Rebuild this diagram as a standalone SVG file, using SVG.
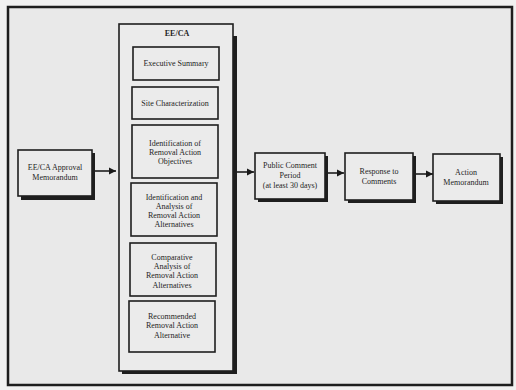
<svg xmlns="http://www.w3.org/2000/svg" width="516" height="390" viewBox="0 0 516 390">
<defs>
<marker id="ah" markerWidth="8" markerHeight="8" refX="7" refY="4" orient="auto" markerUnits="userSpaceOnUse">
<path d="M0,0.5 L7,4 L0,7.5 z" fill="#1a1a1a"/>
</marker>
</defs>
<style>
.bg{fill:#f1f1f1}
.frame{fill:#e9e9e9;stroke:#1e1e1e;stroke-width:2.5}
.box{fill:#ebebeb;stroke:#1e1e1e;stroke-width:1.6}
.shadow{fill:#1e1e1e}
.t{font-family:"Liberation Serif","Times New Roman",serif;font-size:8px;fill:#1e1e1e;text-anchor:middle}
.b{font-weight:bold}
.c{stroke:#1e1e1e;stroke-width:1.6;fill:none;marker-end:url(#ah)}
</style>
<rect class="bg" x="0" y="0" width="516" height="390"/>
<rect class="frame" x="8" y="7" width="504" height="378"/>

<g id="eeca">
<rect class="shadow" x="122" y="36" width="115" height="338"/>
<rect class="box" x="119" y="24" width="114" height="347"/>
<text class="t b" x="177" y="36">EE/CA</text>
</g>
<g id="exec">
<rect class="box" x="133" y="47" width="86" height="33"/>
<text class="t" x="176" y="66">Executive Summary</text>
</g>
<g id="site">
<rect class="box" x="132" y="87" width="86" height="32"/>
<text class="t" x="175" y="106">Site Characterization</text>
</g>
<g id="objectives">
<rect class="box" x="132" y="125" width="86" height="53"/>
<text class="t" x="175" y="146">Identification of</text>
<text class="t" x="175" y="155">Removal Action</text>
<text class="t" x="175" y="164">Objectives</text>
</g>
<g id="identalt">
<rect class="box" x="131" y="183" width="86" height="53"/>
<text class="t" x="174" y="200">Identification and</text>
<text class="t" x="174" y="209">Analysis of</text>
<text class="t" x="174" y="218">Removal Action</text>
<text class="t" x="174" y="227">Alternatives</text>
</g>
<g id="compare">
<rect class="box" x="130" y="243" width="86" height="53"/>
<text class="t" x="172" y="260">Comparative</text>
<text class="t" x="172" y="269">Analysis of</text>
<text class="t" x="172" y="278">Removal Action</text>
<text class="t" x="172" y="288">Alternatives</text>
</g>
<g id="recommend">
<rect class="box" x="129" y="301" width="86" height="51"/>
<text class="t" x="172" y="319">Recommended</text>
<text class="t" x="172" y="328">Removal Action</text>
<text class="t" x="172" y="338">Alternative</text>
</g>

<g id="approval">
<rect class="shadow" x="21" y="153" width="74" height="47"/>
<rect class="box" x="18" y="150" width="74" height="46"/>
<text class="t" x="55" y="170">EE/CA Approval</text>
<text class="t" x="55" y="180">Memorandum</text>
</g>
<g id="public">
<rect class="shadow" x="258" y="156" width="70" height="46"/>
<rect class="box" x="255" y="153" width="70" height="46"/>
<text class="t" x="290" y="168">Public Comment</text>
<text class="t" x="290" y="178">Period</text>
<text class="t" x="290" y="188">(at least 30 days)</text>
</g>
<g id="response">
<rect class="shadow" x="348" y="156" width="68" height="47"/>
<rect class="box" x="345" y="153" width="68" height="47"/>
<text class="t" x="379" y="174">Response to</text>
<text class="t" x="379" y="184">Comments</text>
</g>
<g id="action">
<rect class="shadow" x="436" y="157" width="67" height="47"/>
<rect class="box" x="433" y="154" width="67" height="47"/>
<text class="t" x="466" y="175">Action</text>
<text class="t" x="466" y="185">Memorandum</text>
</g>

<g id="connectors">
<line class="c" x1="92" y1="171" x2="116" y2="171"/>
<line class="c" x1="237" y1="172" x2="254" y2="172"/>
<line class="c" x1="328" y1="173" x2="344" y2="173"/>
<line class="c" x1="416" y1="174" x2="433" y2="174"/>
</g>
</svg>
